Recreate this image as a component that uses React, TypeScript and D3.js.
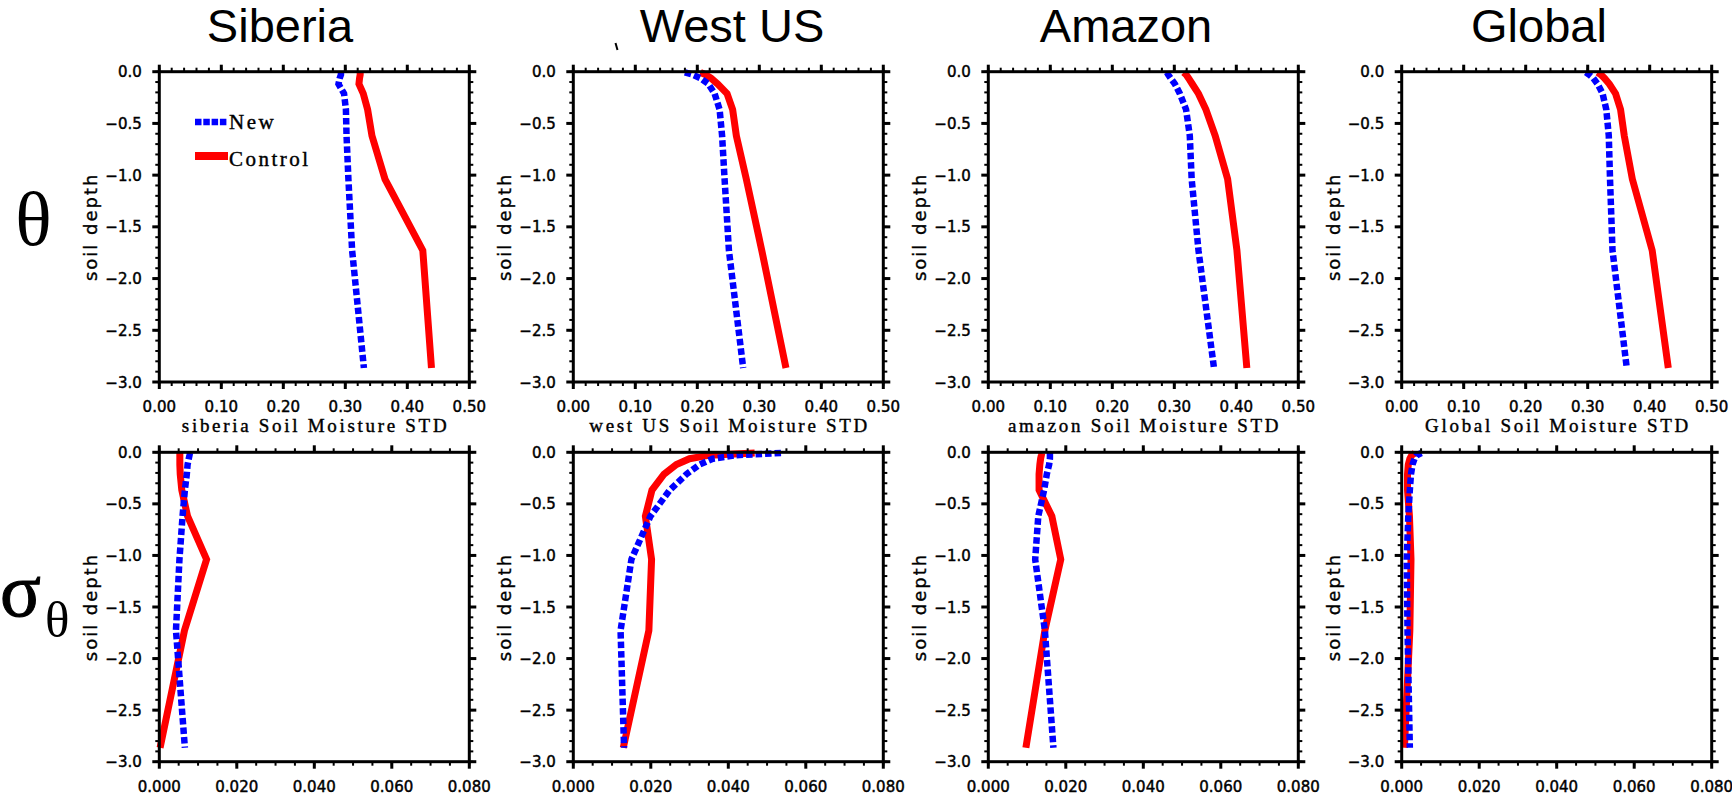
import React from "react";
import * as d3 from "d3";

// Soil node depths (m), shared by every profile
const depths = [-0.0071, -0.0279, -0.0623, -0.1189, -0.2122, -0.3661, -0.6198, -1.038, -1.7276, -2.8646];

const regionTitles = ["Siberia", "West US", "Amazon", "Global"];
const regionAxisNames = ["siberia", "west US", "amazon", "Global"];
const legendLabels = ["New", "Control"];

// Soil moisture (theta) profiles
const siberiaThetaNew = [0.293, 0.293, 0.291, 0.289, 0.298, 0.301, 0.302, 0.305, 0.311, 0.33];
const siberiaThetaControl = [0.324, 0.324, 0.323, 0.322, 0.329, 0.336, 0.343, 0.364, 0.425, 0.439];
const westUSThetaNew = [0.18, 0.192, 0.205, 0.218, 0.228, 0.236, 0.24, 0.244, 0.251, 0.274];
const westUSThetaControl = [0.205, 0.213, 0.222, 0.233, 0.248, 0.257, 0.263, 0.279, 0.304, 0.343];
const amazonThetaNew = [0.288, 0.29, 0.294, 0.301, 0.309, 0.319, 0.325, 0.328, 0.339, 0.364];
const amazonThetaControl = [0.315, 0.319, 0.323, 0.329, 0.339, 0.351, 0.366, 0.386, 0.401, 0.417];
const globalThetaNew = [0.297, 0.302, 0.309, 0.316, 0.324, 0.33, 0.334, 0.336, 0.34, 0.363];
const globalThetaControl = [0.316, 0.321, 0.327, 0.335, 0.345, 0.353, 0.359, 0.372, 0.404, 0.43];

// Soil moisture standard deviation (sigma theta) profiles
const siberiaSigmaNew = [0.0079, 0.0078, 0.0076, 0.0073, 0.0071, 0.0066, 0.006, 0.0052, 0.0043, 0.0066];
const siberiaSigmaControl = [0.0053, 0.0053, 0.0053, 0.0053, 0.0054, 0.0058, 0.0073, 0.0122, 0.0065, 0.0002];
const westUSSigmaNew = [0.0536, 0.042, 0.036, 0.0326, 0.0292, 0.0249, 0.0199, 0.015, 0.0122, 0.0131];
const westUSSigmaControl = [0.0468, 0.0352, 0.03, 0.0266, 0.0234, 0.0203, 0.0186, 0.0202, 0.0195, 0.0129];
const amazonSigmaNew = [0.0159, 0.0159, 0.0159, 0.0157, 0.0151, 0.0144, 0.0129, 0.0121, 0.0146, 0.0168];
const amazonSigmaControl = [0.0138, 0.0137, 0.0135, 0.0133, 0.0131, 0.0131, 0.0164, 0.0187, 0.0146, 0.0097];
const globalSigmaNew = [0.0051, 0.0039, 0.0033, 0.0028, 0.0024, 0.0021, 0.0017, 0.0013, 0.0015, 0.0021];
const globalSigmaControl = [0.0034, 0.0026, 0.0021, 0.0017, 0.0015, 0.0015, 0.002, 0.0024, 0.0021, 0.0007];

const thetaNew = [siberiaThetaNew, westUSThetaNew, amazonThetaNew, globalThetaNew];
const thetaControl = [siberiaThetaControl, westUSThetaControl, amazonThetaControl, globalThetaControl];
const sigmaNew = [siberiaSigmaNew, westUSSigmaNew, amazonSigmaNew, globalSigmaNew];
const sigmaControl = [siberiaSigmaControl, westUSSigmaControl, amazonSigmaControl, globalSigmaControl];

// Layout
const W = 1732;
const H = 795;
const colLeft = [159.3, 573.3, 988.3, 1401.7];
const panelW = 310;
const rowTop = [71.7, 452.3];
const rowH = [310.3, 309.4];
const titleCenter = [280, 732, 1126, 1539];

const RED = "#ff0000";
const BLUE = "#0000ff";
const DASH = "6.5 3";

const sansTick = "'DejaVu Sans', Verdana, sans-serif";
const serifLabel = "'Liberation Serif', 'Times New Roman', serif";

type PanelProps = {
  x0: number;
  y0: number;
  h: number;
  xMax: number;
  xMajor: number;
  xMinor: number;
  fmt: (v: number) => string;
  newVals: number[];
  ctlVals: number[];
  xLabel?: string;
  legend?: boolean;
};

function Panel({ x0, y0, h, xMax, xMajor, xMinor, fmt, newVals, ctlVals, xLabel, legend }: PanelProps) {
  const w = panelW;
  const xs = d3.scaleLinear().domain([0, xMax]).range([x0, x0 + w]);
  const ys = d3.scaleLinear().domain([0, -3]).range([y0, y0 + h]);
  const line = d3
    .line<number>()
    .x((v) => xs(v))
    .y((_, i) => ys(depths[i]));

  const xMajorTicks = xs.ticks(xMajor);
  const xMinorTicks = xs.ticks(xMinor);
  const yMajorTicks = ys.ticks(6);
  const yMinorTicks = ys.ticks(30);
  const fmtY = d3.format(".1f");

  const MAJ = 7;
  const MIN = 4;

  return (
    <g>
      {/* profiles */}
      <path d={line(ctlVals) || ""} fill="none" stroke={RED} strokeWidth={7} strokeLinejoin="miter" />
      <path d={line(newVals) || ""} fill="none" stroke={BLUE} strokeWidth={6.5} strokeDasharray={DASH} />

      {/* frame */}
      <rect x={x0} y={y0} width={w} height={h} fill="none" stroke="#000" strokeWidth={3} />

      {/* minor ticks */}
      {xMinorTicks.map((t, i) => (
        <g key={"xm" + i} stroke="#000" strokeWidth={2}>
          <line x1={xs(t)} x2={xs(t)} y1={y0 + h} y2={y0 + h + MIN} />
          <line x1={xs(t)} x2={xs(t)} y1={y0} y2={y0 - MIN} />
        </g>
      ))}
      {yMinorTicks.map((t, i) => (
        <g key={"ym" + i} stroke="#000" strokeWidth={2}>
          <line x1={x0} x2={x0 - MIN} y1={ys(t)} y2={ys(t)} />
          <line x1={x0 + w} x2={x0 + w + MIN} y1={ys(t)} y2={ys(t)} />
        </g>
      ))}
      {/* major ticks */}
      {xMajorTicks.map((t, i) => (
        <g key={"xM" + i} stroke="#000" strokeWidth={3}>
          <line x1={xs(t)} x2={xs(t)} y1={y0 + h} y2={y0 + h + MAJ} />
          <line x1={xs(t)} x2={xs(t)} y1={y0} y2={y0 - MAJ} />
        </g>
      ))}
      {yMajorTicks.map((t, i) => (
        <g key={"yM" + i} stroke="#000" strokeWidth={3}>
          <line x1={x0} x2={x0 - MAJ} y1={ys(t)} y2={ys(t)} />
          <line x1={x0 + w} x2={x0 + w + MAJ} y1={ys(t)} y2={ys(t)} />
        </g>
      ))}

      {/* tick labels */}
      {xMajorTicks.map((t, i) => (
        <text
          key={"xl" + i}
          x={xs(t)}
          y={y0 + h + 30}
          textAnchor="middle"
          fontFamily={sansTick}
          fontSize={15}
          stroke="#000"
          strokeWidth={0.45}
        >
          {fmt(t)}
        </text>
      ))}
      {yMajorTicks.map((t, i) => (
        <text
          key={"yl" + i}
          x={x0 - 17.5}
          y={ys(t) + 5.5}
          textAnchor="end"
          fontFamily={sansTick}
          fontSize={15}
          stroke="#000"
          strokeWidth={0.45}
        >
          {fmtY(t)}
        </text>
      ))}

      {/* y-axis label */}
      <text
        transform={`translate(${x0 - 62},${y0 + h / 2}) rotate(-90)`}
        textAnchor="middle"
        fontFamily={sansTick}
        fontSize={18}
        letterSpacing={2}
        stroke="#000"
        strokeWidth={0.35}
      >
        soil depth
      </text>

      {xLabel && (
        <text
          x={x0 + w / 2 + 1.3}
          y={y0 + h + 50}
          textAnchor="middle"
          fontFamily={serifLabel}
          fontSize={19}
          letterSpacing={2.7}
          stroke="#000"
          strokeWidth={0.4}
        >
          {xLabel}
        </text>
      )}

      {legend && (
        <g>
          <line x1={195} x2={228} y1={122} y2={122} stroke={BLUE} strokeWidth={6.5} strokeDasharray="6.5 1.8" />
          <text x={229} y={128.5} fontFamily={serifLabel} fontSize={21} letterSpacing={2.5} stroke="#000" strokeWidth={0.4}>
            {legendLabels[0]}
          </text>
          <line x1={195} x2={228} y1={156} y2={156} stroke={RED} strokeWidth={8} />
          <text x={229} y={165.5} fontFamily={serifLabel} fontSize={21} letterSpacing={2.5} stroke="#000" strokeWidth={0.4}>
            {legendLabels[1]}
          </text>
        </g>
      )}
    </g>
  );
}

export default function App() {
  const fmtTheta = d3.format(".2f");
  const fmtSigma = d3.format(".3f");
  return (
    <div style={{ position: "absolute", left: 0, top: 0 }}>
      <svg width={W} height={H} viewBox={`0 0 ${W} ${H}`} style={{ display: "block", background: "#fff" }}>
        <rect x={0} y={0} width={W} height={H} fill="#fff" />

        {/* column titles */}
        {regionTitles.map((t, i) => (
          <text
            key={t}
            x={titleCenter[i]}
            y={42}
            textAnchor="middle"
            fontFamily="'Liberation Sans', Arial, sans-serif"
            fontSize={47}
          >
            {t}
          </text>
        ))}
        {/* small stroke beside the second title */}
        <line x1={615.5} y1={43} x2={617.5} y2={50} stroke="#000" strokeWidth={2} />

        {/* row labels */}
        <text x={33.5} y={245} textAnchor="middle" fontFamily={serifLabel} fontSize={76}>
          θ
        </text>
        <text x={0} y={616} fontFamily={serifLabel} fontSize={76} stroke="#000" strokeWidth={1}>
          σ
        </text>
        <text x={45} y={637} fontFamily={serifLabel} fontSize={51}>
          θ
        </text>

        {/* theta row */}
        {regionTitles.map((t, i) => (
          <Panel
            key={"theta" + t}
            x0={colLeft[i]}
            y0={rowTop[0]}
            h={rowH[0]}
            xMax={0.5}
            xMajor={5}
            xMinor={25}
            fmt={fmtTheta}
            newVals={thetaNew[i]}
            ctlVals={thetaControl[i]}
            xLabel={`${regionAxisNames[i]} Soil Moisture STD`}
            legend={i === 0}
          />
        ))}

        {/* sigma row */}
        {regionTitles.map((t, i) => (
          <Panel
            key={"sigma" + t}
            x0={colLeft[i]}
            y0={rowTop[1]}
            h={rowH[1]}
            xMax={0.08}
            xMajor={4}
            xMinor={16}
            fmt={fmtSigma}
            newVals={sigmaNew[i]}
            ctlVals={sigmaControl[i]}
          />
        ))}
      </svg>
    </div>
  );
}
